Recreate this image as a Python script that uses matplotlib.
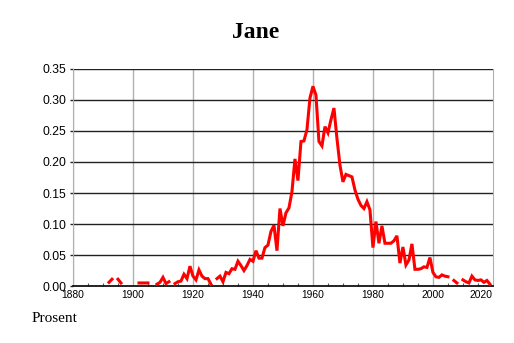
import numpy as np
import matplotlib
matplotlib.use("Agg")
import matplotlib.pyplot as plt
from matplotlib.ticker import MultipleLocator

nan = np.nan

# share of population named Jane, per year (gaps = no data)
years = list(range(1892, 2020))
share = [
    0.006, 0.011, nan, 0.011, 0.005, nan, nan, nan, nan, nan,          # 1892-1901
    0.005, 0.005, 0.005, 0.005, nan, nan, 0.003, 0.006, 0.014, 0.004,  # 1902-1911
    0.007, nan, 0.004, 0.007, 0.008, 0.019, 0.012, 0.032, 0.016, 0.010,  # 1912-1921
    0.026, 0.016, 0.012, 0.012, 0.003, nan, 0.012, 0.016, 0.007, 0.022,  # 1922-1931
    0.020, 0.028, 0.027, 0.040, 0.033, 0.025, 0.033, 0.043, 0.040, 0.057,  # 1932-1941
    0.045, 0.045, 0.062, 0.066, 0.088, 0.098, 0.057, 0.125, 0.097, 0.118,  # 1942-1951
    0.126, 0.152, 0.205, 0.170, 0.233, 0.234, 0.252, 0.303, 0.322, 0.308,  # 1952-1961
    0.233, 0.226, 0.257, 0.247, 0.268, 0.287, 0.238, 0.195, 0.168, 0.180,  # 1962-1971
    0.178, 0.176, 0.155, 0.140, 0.130, 0.125, 0.136, 0.123, 0.062, 0.104,  # 1972-1981
    0.069, 0.097, 0.069, 0.069, 0.069, 0.073, 0.081, 0.037, 0.063, 0.034,  # 1982-1991
    0.042, 0.068, 0.027, 0.027, 0.028, 0.031, 0.030, 0.046, 0.022, 0.015,  # 1992-2001
    0.014, 0.018, 0.016, 0.015, nan, 0.009, 0.005, nan, 0.010, 0.007,      # 2002-2011
    0.005, 0.016, 0.010, 0.009, 0.010, 0.006, 0.009, 0.003,                # 2012-2019
]

y_ticks = [0.00, 0.05, 0.10, 0.15, 0.20, 0.25, 0.30, 0.35]
x_ticks = [1880, 1900, 1920, 1940, 1960, 1980, 2000, 2020]


def main():
    fig = plt.figure(figsize=(5.14, 3.43), dpi=100)
    ax = fig.add_axes([0.142, 0.166, 0.817, 0.633])

    # grid first, data on top
    for x in x_ticks[:-1]:
        ax.axvline(x, color="#b0b0b0", lw=1.0, zorder=1)
    for y in y_ticks[1:]:
        ax.axhline(y, color="#222222", lw=1.0, zorder=1)

    ax.plot(years, share, color="#ff0000", lw=2.2, zorder=3,
            solid_joinstyle="miter")

    ax.set_xlim(1880, 2020)
    ax.set_ylim(0, 0.35)
    ax.set_yticks(y_ticks)
    ax.set_yticklabels(["%.2f" % v for v in y_ticks],
                       fontfamily="Liberation Sans", fontsize=8.8)
    ax.set_xticks(x_ticks)
    ax.set_xticklabels([str(v) for v in x_ticks],
                       fontfamily="Liberation Sans", fontsize=7.4)
    ax.get_xticklabels()[-1].set_horizontalalignment("right")
    ax.xaxis.set_minor_locator(MultipleLocator(5))

    ax.tick_params(axis="y", length=2, width=1, color="#222222", pad=3)
    ax.tick_params(axis="x", which="major", length=0, pad=3)
    ax.tick_params(axis="x", which="minor", direction="in", length=2.5,
                   width=0.8, color="#555555")

    ax.spines["top"].set_visible(False)
    ax.spines["left"].set_color("#b0b0b0")
    ax.spines["right"].set_color("#b0b0b0")
    ax.spines["bottom"].set_color("#111111")
    ax.spines["bottom"].set_linewidth(1.3)

    fig.text(0.498, 0.905, "Jane", ha="center", va="center",
             fontfamily="Liberation Serif", fontweight="bold", fontsize=17)
    fig.text(0.062, 0.07, "Prosent", ha="left", va="center",
             fontfamily="Liberation Serif", fontsize=11)

    fig.savefig("out.png", dpi=100)


if __name__ == '__main__':
    main()
